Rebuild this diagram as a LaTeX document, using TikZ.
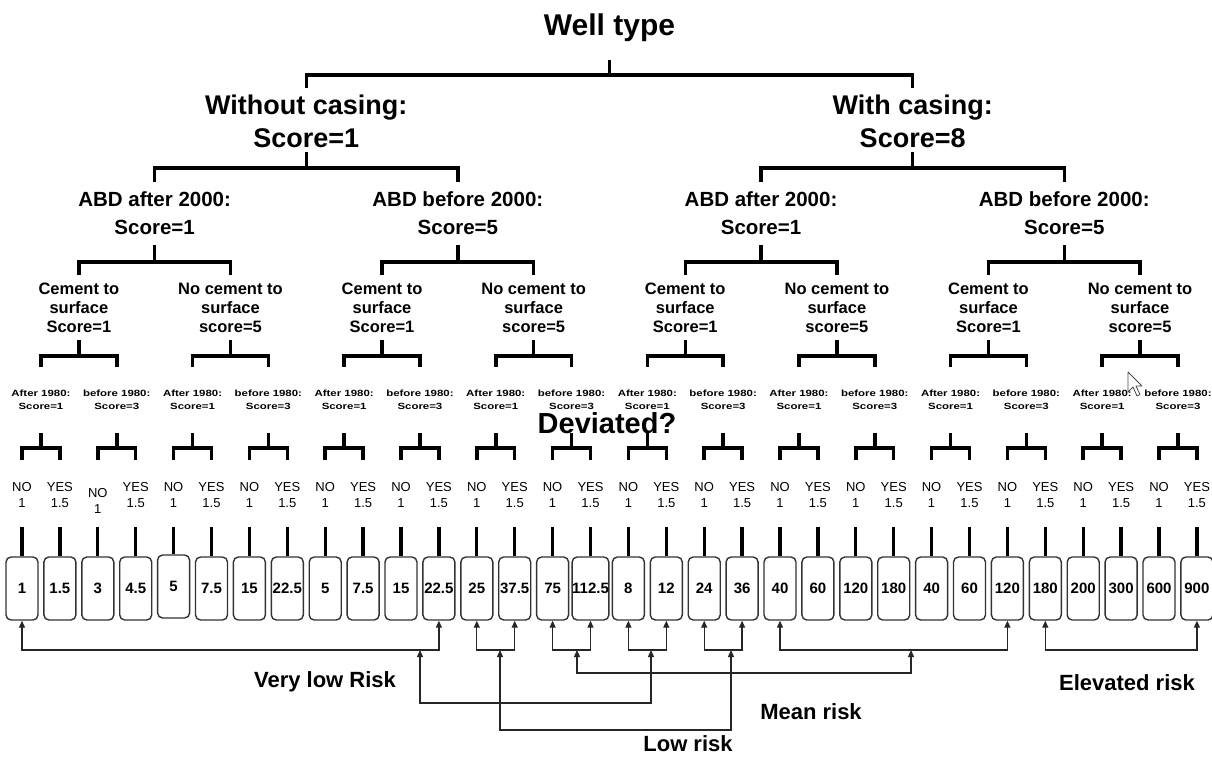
\documentclass[tikz,border=0pt]{standalone}
\usepackage{fontspec}
\setmainfont{Liberation Sans}
\newfontfamily\wideface[FakeStretch=1.27]{Liberation Sans}
\usetikzlibrary{arrows.meta,calc}
\tikzset{
  tree/.style={line width=3.5pt, line join=miter, draw=black},
  ltitle/.style={font=\fontsize{30}{30}\selectfont\bfseries, inner sep=0pt},
  lone/.style={font=\fontsize{27}{33}\selectfont\bfseries, align=center, inner sep=0pt},
  ltwo/.style={font=\fontsize{20.5}{28}\selectfont\bfseries, align=center, inner sep=0pt},
  lthree/.style={font=\fontsize{16.5}{19}\selectfont\bfseries, align=center, inner sep=0pt},
  lfour/.style={font=\wideface\fontsize{9}{13}\selectfont\bfseries, align=center, inner sep=0pt},
  lfive/.style={font=\fontsize{13}{16}\selectfont, align=center, inner sep=0pt},
  valbox/.style={draw=black!80, line width=1.4pt, rounded corners=5pt, minimum width=32pt, minimum height=63pt, inner sep=0pt, font=\fontsize{15}{15}\selectfont\bfseries},
  conn/.style={line width=1.3pt, draw=black!85},
  tips/.style={{Triangle[length=7pt,width=6pt]}-{Triangle[length=7pt,width=6pt]}},
  risk/.style={font=\fontsize{22}{22}\selectfont\bfseries, inner sep=0pt},
}
\begin{document}
\begin{tikzpicture}[x=1pt,y=-1pt]
\useasboundingbox[fill=white] (0,0) rectangle (1212,757);
\def\p{37.9}
% root
\node[ltitle] (n0-1) at (609.5,28) {Well type};
\coordinate (n0-1-out) at (609.5,60);
% tree node anchor coordinates
\foreach \L/\yin/\yout in {1/88/152, 2/182/245, 3/275/340, 4/367/433, 5/460/527} {
  \pgfmathtruncatemacro\N{2^\L}
  \foreach \k in {1,...,\N} {
    \pgfmathsetmacro\xx{22+\p*((\k-0.5)*2^(5-\L)-0.5)}
    \coordinate (n\L-\k-in) at (\xx,\yin);
    \coordinate (n\L-\k-out) at (\xx,\yout);
  }
}
% texts
\node[lone, yshift=-1pt] (t1-1) at ($(n1-1-in)!0.5!(n1-1-out)$) {Without casing:\\Score=1};
\node[lone, yshift=-1pt] (t1-2) at ($(n1-2-in)!0.5!(n1-2-out)$) {With casing:\\Score=8};
\foreach \k in {1,...,4} {
  \node[ltwo] (t2-\k) at ($(n2-\k-in)!0.5!(n2-\k-out)$)
    {\ifodd\k ABD after 2000:\\Score=1\else ABD before 2000:\\Score=5\fi};
}
\foreach \k in {1,...,8} {
  \node[lthree] (t3-\k) at ($(n3-\k-in)!0.5!(n3-\k-out)$)
    {\ifodd\k Cement to\\surface\\Score=1\else No cement to\\surface\\score=5\fi};
}
\foreach \k in {1,...,16} {
  \node[lfour] (t4-\k) at ($(n4-\k-in)!0.5!(n4-\k-out)$)
    {\ifodd\k After 1980:\\Score=1\else before 1980:\\Score=3\fi};
}
\foreach \k in {1,...,32} {
  \pgfmathsetmacro\ys{\k==3 ? -7 : -1.5}
  \node[lfive, yshift=\ys pt] (t5-\k) at ($(n5-\k-in)!0.5!(n5-\k-out)$)
    {\ifodd\k NO\\1\else YES\\1.5\fi};
}
% tree connectors
\foreach \L/\d in {0/15,1/16,2/17,3/16,4/15} {
  \pgfmathtruncatemacro\N{2^\L}
  \pgfmathtruncatemacro\C{\L+1}
  \foreach \k in {1,...,\N} {
    \pgfmathtruncatemacro\a{2*\k-1}
    \pgfmathtruncatemacro\b{2*\k}
    \draw[tree] (n\L-\k-out) -- ++(0,\d) coordinate (n\L-\k-bar);
    \draw[tree] (n\C-\a-in) |- (n\L-\k-bar) -| (n\C-\b-in);
  }
}
% boxes
\foreach \v [count=\i] in {1,1.5,3,4.5,5,7.5,15,22.5,5,7.5,15,22.5,25,37.5,75,112.5,8,12,24,36,40,60,120,180,40,60,120,180,200,300,600,900} {
  \pgfmathsetmacro\bs{\i==5 ? 2 : 0}
  \node[valbox, yshift=\bs pt] (b\i) at ($(n5-\i-out)+(0,61.5)$) {\v};
  \draw[tree, line width=3.3pt] (n5-\i-out) -- (b\i.north);
}
\node[font=\fontsize{29}{29}\selectfont\bfseries, inner sep=0pt] (dev) at (607,423) {Deviated?};
% bottom brackets
\coordinate (ybr) at (0,650);
\foreach \a/\b in {1/12,13/14,15/16,17/18,19/20,21/27,28/32}
  \draw[conn,tips] (b\a.south) -- (b\a.south |- ybr) -- (b\b.south |- ybr) -- (b\b.south);
\coordinate (j1) at (420,650);
\coordinate (j2) at (500,650);
\coordinate (j3) at (577,650);
\coordinate (j4) at (651,650);
\coordinate (j5) at (731,650);
\coordinate (j6) at (911,650);
\coordinate (r1) at (0,703);
\coordinate (r2) at (0,730);
\coordinate (r3) at (0,673);
\draw[conn,tips] (j1) -- (j1 |- r1) -| (j4);
\draw[conn,tips] (j2) -- (j2 |- r2) -| (j5);
\draw[conn,tips] (j3) -- (j3 |- r3) -| (j6);
% risk labels
\node[risk] (vlow) at (325,682) {Very low Risk};
\node[risk] (elev) at (1127,683) {Elevated risk};
\node[risk] (mean) at (811,712) {Mean risk};
\node[risk] (low) at (688,744) {Low risk};
% mouse cursor
\draw[black!70, line width=0.8pt, fill=white, line join=round] (1128,372) -- ++(0,20) -- ++(5,-5) -- ++(4,9) -- ++(3,-1.5) -- ++(-4,-8.5) -- ++(6,0) -- cycle;
\end{tikzpicture}
\end{document}
